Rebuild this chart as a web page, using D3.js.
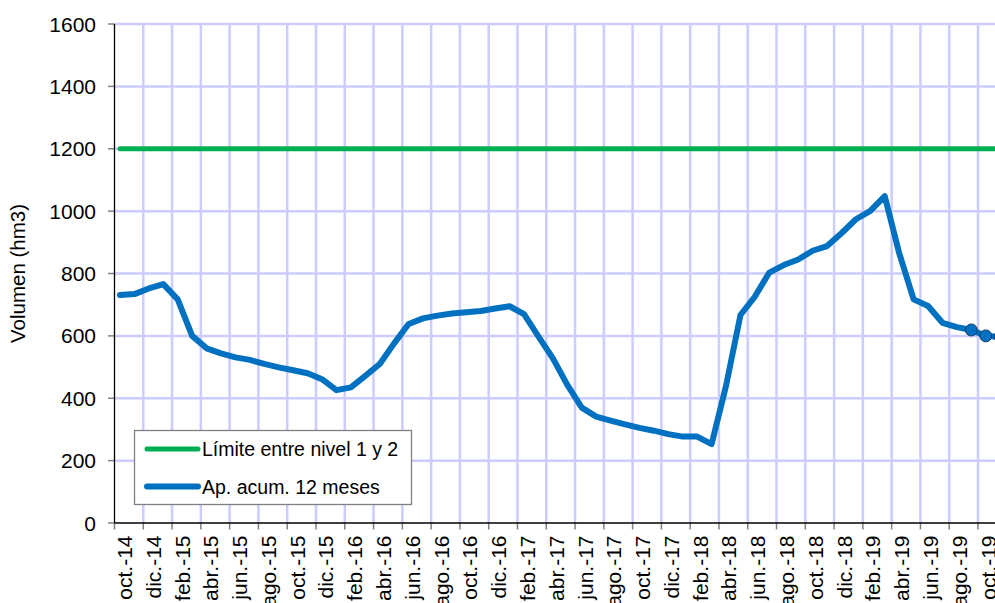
<!DOCTYPE html>
<html>
<head>
<meta charset="utf-8">
<script src="https://cdn.jsdelivr.net/npm/d3@7"></script>
<style>
  body { margin: 0; background: #fff; }
  text { font-family: Arial, "Liberation Sans", sans-serif; fill: #000; }
</style>
</head>
<body>
<svg id="chart"></svg>
<script>
// month labels on the category axis (one every two months is shown)
let months = ["oct.-14","nov.-14","dic.-14","ene.-15","feb.-15","mar.-15","abr.-15","may.-15","jun.-15","jul.-15","ago.-15","sep.-15",
  "oct.-15","nov.-15","dic.-15","ene.-16","feb.-16","mar.-16","abr.-16","may.-16","jun.-16","jul.-16","ago.-16","sep.-16",
  "oct.-16","nov.-16","dic.-16","ene.-17","feb.-17","mar.-17","abr.-17","may.-17","jun.-17","jul.-17","ago.-17","sep.-17",
  "oct.-17","nov.-17","dic.-17","ene.-18","feb.-18","mar.-18","abr.-18","may.-18","jun.-18","jul.-18","ago.-18","sep.-18",
  "oct.-18","nov.-18","dic.-18","ene.-19","feb.-19","mar.-19","abr.-19","may.-19","jun.-19","jul.-19","ago.-19","sep.-19",
  "oct.-19"];

// Ap. acum. 12 meses (hm3)
let apAcum = [731,734,752,766,717,600,560,544,531,523,510,499,
  490,480,461,426,435,472,510,576,638,656,665,672,
  676,680,688,695,670,598,528,443,370,341,328,316,
  305,296,285,277,277,253,440,667,726,803,827,845,
  873,888,929,974,1001,1048,865,717,696,642,628,619,
  600,597];
// the last points carry a marker
let markedCount = 3;

// Límite entre nivel 1 y 2
let limite = apAcum.map(function () { return 1200; });

let yTicks = [0,200,400,600,800,1000,1200,1400,1600];

let seriesNames = ["Límite entre nivel 1 y 2", "Ap. acum. 12 meses"];
let seriesColors = ["#00B050", "#0070C0"];

let W = 995, H = 603;
let margin = { top: 24, left: 114.5, bottom: 80 };

let svg = d3.select("#chart").attr("width", W).attr("height", H);

// category axis: one tick per month
let xScale = d3.scaleLinear()
    .domain([0, months.length - 1])
    .range([margin.left, 978]);

// the series sit on their own (secondary) positions
let xLine = d3.scaleLinear()
    .domain([0, apAcum.length - 1])
    .range([120, 1000.2]);

let yScale = d3.scaleLinear()
    .domain([0, 1600])
    .range([H - margin.bottom, margin.top]);

let y0 = yScale(0);

//horizontal gridlines
svg.append("g")
    .selectAll("line")
    .data(yTicks.slice(1))
    .enter()
    .append("line")
    .attr("x1", margin.left).attr("x2", W)
    .attr("y1", function (d) { return yScale(d); })
    .attr("y2", function (d) { return yScale(d); })
    .attr("stroke", "#CCCCFF")
    .attr("stroke-width", 2.5);

//vertical gridlines every 2 months
let evenIdx = d3.range(0, months.length, 2);
svg.append("g")
    .selectAll("line")
    .data(evenIdx.slice(1))
    .enter()
    .append("line")
    .attr("x1", function (d) { return xScale(d); })
    .attr("x2", function (d) { return xScale(d); })
    .attr("y1", margin.top).attr("y2", y0)
    .attr("stroke", "#CCCCFF")
    .attr("stroke-width", 2.5);

// y axis
let yAxis = svg.append("g");
yAxis.selectAll("line.tick")
    .data(yTicks)
    .enter()
    .append("line")
    .attr("x1", margin.left - 6.5).attr("x2", margin.left)
    .attr("y1", function (d) { return yScale(d); })
    .attr("y2", function (d) { return yScale(d); })
    .attr("stroke", "#808080")
    .attr("stroke-width", 1.5);
yAxis.selectAll("text")
    .data(yTicks)
    .enter()
    .append("text")
    .attr("x", 96)
    .attr("y", function (d) { return yScale(d); })
    .attr("dy", "0.36em")
    .attr("text-anchor", "end")
    .style("font-size", "21px")
    .text(function (d) { return d; });

// x axis ticks and labels
let xAxis = svg.append("g");
xAxis.selectAll("line")
    .data(evenIdx)
    .enter()
    .append("line")
    .attr("x1", function (d) { return xScale(d); })
    .attr("x2", function (d) { return xScale(d); })
    .attr("y1", y0).attr("y2", y0 + 6.5)
    .attr("stroke", "#808080")
    .attr("stroke-width", 1.5);
xAxis.selectAll("text")
    .data(evenIdx)
    .enter()
    .append("text")
    .attr("transform", function (d) {
        return "translate(" + (xScale(d) + 17.5) + "," + (y0 + 12.5) + ") rotate(-90)";
    })
    .attr("text-anchor", "end")
    .style("font-size", "21px")
    .text(function (d) { return months[d]; });

// axis lines
svg.append("line")
    .attr("x1", margin.left).attr("x2", margin.left)
    .attr("y1", margin.top).attr("y2", y0)
    .attr("stroke", "#000").attr("stroke-width", 1.3);
svg.append("line")
    .attr("x1", margin.left).attr("x2", W)
    .attr("y1", y0).attr("y2", y0)
    .attr("stroke", "#000").attr("stroke-width", 1.3);

// y title
svg.append("text")
    .attr("transform", "translate(25," + yScale(800) + ") rotate(-90)")
    .attr("text-anchor", "middle")
    .style("font-size", "20.5px")
    .text("Volumen (hm3)");

let line = d3.line()
    .x(function (d, i) { return xLine(i); })
    .y(function (d) { return yScale(d); });

svg.append("path")
    .datum(limite)
    .attr("d", line)
    .attr("fill", "none")
    .attr("stroke", seriesColors[0])
    .attr("stroke-width", 5)
    .attr("stroke-linecap", "round");

svg.append("path")
    .datum(apAcum)
    .attr("d", line)
    .attr("fill", "none")
    .attr("stroke", seriesColors[1])
    .attr("stroke-width", 6)
    .attr("stroke-linejoin", "round")
    .attr("stroke-linecap", "round");

let marked = apAcum.map(function (v, i) { return { i: i, v: v }; })
    .slice(apAcum.length - markedCount);
svg.selectAll("circle.mk")
    .data(marked)
    .enter()
    .append("circle")
    .attr("cx", function (d) { return xLine(d.i); })
    .attr("cy", function (d) { return yScale(d.v); })
    .attr("r", 6)
    .attr("fill", seriesColors[1])
    .attr("stroke", "#1F3864")
    .attr("stroke-width", 1);

// legend
let legend = svg.append("g");
legend.append("rect")
    .attr("x", 134.5).attr("y", 430.5)
    .attr("width", 277).attr("height", 74)
    .attr("fill", "#fff")
    .attr("stroke", "#808080")
    .attr("stroke-width", 1.3);
seriesNames.forEach(function (name, k) {
    let ly = 449 + k * 37.5;
    legend.append("line")
        .attr("x1", 147).attr("x2", 198)
        .attr("y1", ly).attr("y2", ly)
        .attr("stroke", seriesColors[k])
        .attr("stroke-width", k === 0 ? 5 : 6)
        .attr("stroke-linecap", "round");
    legend.append("text")
        .attr("x", 202)
        .attr("y", ly)
        .attr("dy", "0.36em")
        .style("font-size", "19.5px")
        .text(name);
});
</script>
</body>
</html>
